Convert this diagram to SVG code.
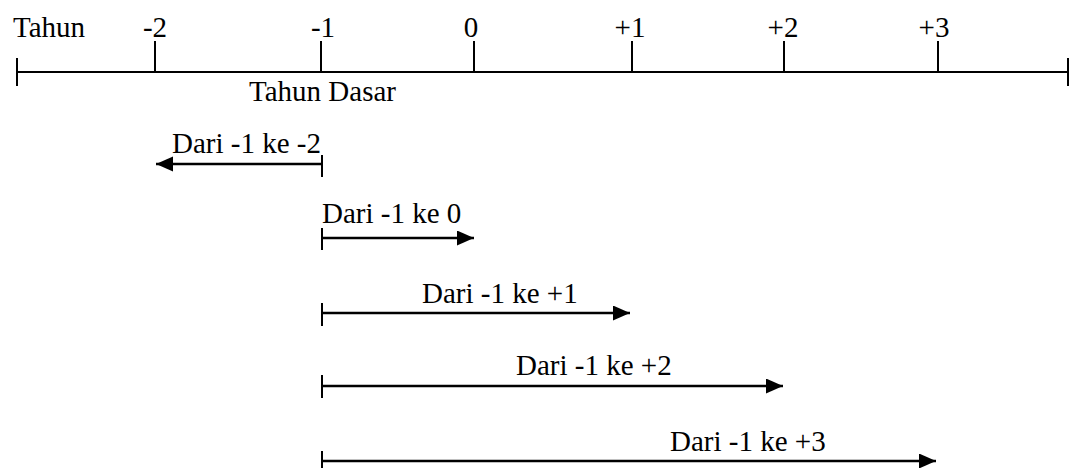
<svg xmlns="http://www.w3.org/2000/svg" width="1070" height="468" viewBox="0 0 1070 468">
<defs>
<style>
.t{font-family:'Liberation Serif','Times New Roman',Times,serif;font-size:29px;fill:#000}
.ax{stroke:#000;stroke-width:2;fill:none}
.arr{stroke:#000;stroke-width:2.5;fill:none}
.tk{stroke:#000;stroke-width:2;fill:none}
</style>
<marker id="ah" markerUnits="userSpaceOnUse" markerWidth="20" markerHeight="16" refX="17" refY="7.5" orient="auto">
<path d="M0,0 L17,7.5 L0,15 z" fill="#000"/>
</marker>
</defs>
<rect width="1070" height="468" fill="#fff"/>
<g id="axis">
<line class="ax" x1="17" y1="72" x2="1068" y2="72"/>
<line class="ax" x1="17" y1="58" x2="17" y2="86"/>
<line class="ax" x1="1068" y1="58" x2="1068" y2="86"/>
<line class="ax" x1="155" y1="41" x2="155" y2="72"/>
<line class="ax" x1="321" y1="41" x2="321" y2="72"/>
<line class="ax" x1="474" y1="41" x2="474" y2="72"/>
<line class="ax" x1="632" y1="41" x2="632" y2="72"/>
<line class="ax" x1="784" y1="41" x2="784" y2="72"/>
<line class="ax" x1="938" y1="41" x2="938" y2="72"/>
<text class="t" x="13" y="37">Tahun</text>
<text class="t" x="155" y="37" text-anchor="middle">-2</text>
<text class="t" x="323" y="37" text-anchor="middle">-1</text>
<text class="t" x="471" y="37" text-anchor="middle">0</text>
<text class="t" x="630" y="37" text-anchor="middle">+1</text>
<text class="t" x="783" y="37" text-anchor="middle">+2</text>
<text class="t" x="934" y="37" text-anchor="middle">+3</text>
<text class="t" x="249" y="101">Tahun Dasar</text>
</g>
<g id="connectors">
<g id="arrow-m2">
<line class="tk" x1="322" y1="155" x2="322" y2="177"/>
<line class="arr" x1="322" y1="164" x2="156" y2="164" marker-end="url(#ah)"/>
<text class="t" x="172" y="153">Dari -1 ke -2</text>
</g>
<g id="arrow-0">
<line class="tk" x1="322" y1="228" x2="322" y2="250"/>
<line class="arr" x1="322" y1="238" x2="474" y2="238" marker-end="url(#ah)"/>
<text class="t" x="322" y="223">Dari -1 ke 0</text>
</g>
<g id="arrow-p1">
<line class="tk" x1="322" y1="303" x2="322" y2="326"/>
<line class="arr" x1="322" y1="313" x2="630" y2="313" marker-end="url(#ah)"/>
<text class="t" x="422" y="303">Dari -1 ke +1</text>
</g>
<g id="arrow-p2">
<line class="tk" x1="322" y1="375" x2="322" y2="398"/>
<line class="arr" x1="322" y1="386" x2="783" y2="386" marker-end="url(#ah)"/>
<text class="t" x="516" y="375">Dari -1 ke +2</text>
</g>
<g id="arrow-p3">
<line class="tk" x1="322" y1="451" x2="322" y2="468"/>
<line class="arr" x1="322" y1="461" x2="936" y2="461" marker-end="url(#ah)"/>
<text class="t" x="670" y="451">Dari -1 ke +3</text>
</g>
</g>
</svg>
